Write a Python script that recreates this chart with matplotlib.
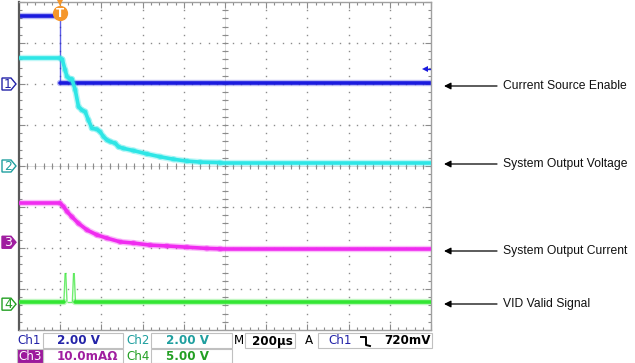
import matplotlib
matplotlib.use("Agg")
import matplotlib.pyplot as plt
import numpy as np
from matplotlib.collections import LineCollection
from matplotlib.patches import Polygon, Rectangle

W, H = 635, 363

# horizontal: 200 us/div, trigger one division after the left edge
t_div = 200
t_min, t_max = -200, 1800

# channel setup: units per division, ground marker in divisions
ch_scale = {1: 2.0, 2: 2.0, 3: 10.0, 4: 5.0}
ch_offset = {1: 2.0, 2: 0.0, 3: -1.86, 4: -3.37}
ch_color = {1: "#1a1ade", 2: "#2ee6e6", 3: "#f02cf0", 4: "#33e633"}
ch_text = {1: "#2323a8", 2: "#1f9f9f", 3: "#a01ea0", 4: "#229f22"}

# traces (time in us, value in channel units)
ch1_t = [-200, 0, 0, 1800]
ch1_v = [3.3, 3.3, 0.07, 0.07]

ch2_t = [-200, 0, 10, 24, 33, 49, 57, 73, 89, 105, 121, 137, 154, 178, 194,
         210, 227, 243, 267, 283, 307, 356, 421, 485, 550, 615, 680, 777, 1800]
ch2_v = [5.25, 5.25, 5.2, 4.68, 4.36, 4.23, 4.23, 3.71, 2.89, 2.73, 2.65, 2.24,
         1.84, 1.79, 1.67, 1.43, 1.27, 1.19, 1.11, 0.94, 0.86, 0.75, 0.59, 0.45,
         0.33, 0.24, 0.19, 0.17, 0.17]

ch3_t = [-200, 0, 16, 33, 57, 89, 130, 178, 227, 291, 356, 437, 518, 615, 712, 777, 1800]
ch3_v = [9.5, 9.5, 8.7, 7.5, 6.2, 4.6, 3.0, 1.8, 1.0, 0.1, -0.2, -0.7, -0.9,
         -1.2, -1.5, -1.6, -1.6]

ch4_t = [-200, 18, 24, 27, 33, 59, 65, 68, 74, 1800]
ch4_v = [0.3, 0.3, 3.8, 3.8, 0.3, 0.3, 3.8, 3.8, 0.3, 0.3]

trig_level = 0.72  # V on Ch1

labels = ["Current Source Enable", "System Output Voltage",
          "System Output Current", "VID Valid Signal"]
label_y_px = [86, 164, 251, 304]

status_row1 = [("Ch1", "2.00 V", 1), ("Ch2", "2.00 V", 2)]
status_row2 = [("Ch3", "10.0mA\u03a9", 3), ("Ch4", "5.00 V", 4)]
timebase = "200\u00b5s"
trig_text = "720mV"


def fx(px):
    return px / W


def fy(py):
    return 1 - py / H


px_per_div = 41.2


def px_to_t(px):
    return t_min + (px - 19) / px_per_div * t_div


def draw_trace(ax, t, v, ch, z):
    t = np.asarray(t, float)
    y = ch_offset[ch] + np.asarray(v, float) / ch_scale[ch]
    pts = np.column_stack([t, y])
    segs = np.stack([pts[:-1], pts[1:]], axis=1)
    dx = np.abs(np.diff(t)) / t_div * px_per_div
    dy = np.abs(np.diff(y)) * px_per_div
    steep = dy > 6 * dx
    # short flat tops between two fast edges are drawn faint too
    thin = steep.copy()
    for i in range(1, len(steep) - 1):
        if steep[i - 1] and steep[i + 1]:
            thin[i] = True
    flat = segs[~thin]
    ax.add_collection(LineCollection(flat, colors=ch_color[ch], linewidths=4.6,
                                     alpha=0.3, capstyle="round", zorder=z))
    ax.add_collection(LineCollection(flat, colors=ch_color[ch], linewidths=2.6,
                                     capstyle="round", zorder=z + 0.1))
    if thin.any():
        ax.add_collection(LineCollection(segs[thin], colors=ch_color[ch],
                                         linewidths=1.0, alpha=0.7, zorder=z))


fig = plt.figure(figsize=(W / 100, H / 100), dpi=100)
ax = fig.add_axes([fx(19), fy(330), fx(431) - fx(19), fy(2) - fy(330)])
ax.set_xlim(t_min, t_max)
ax.set_ylim(-4, 4)

# graticule: dotted division lines, tick-marked centre lines
grid_c = "#8c8c8c"
ys = np.arange(-4, 4.001, 0.2)
xs = np.arange(t_min, t_max + 0.1, t_div / 5)
for k in range(1, 10):
    x = t_min + k * t_div
    ax.plot(np.full_like(ys, x), ys, ls="none", marker="s", ms=1.0,
            mew=0, color=grid_c, zorder=1)
for y in range(-3, 4):
    ax.plot(xs, np.full_like(xs, y), ls="none", marker="s", ms=1.0,
            mew=0, color=grid_c, zorder=1)
xc = (t_min + t_max) / 2
ax.axvline(xc, color="#d0d0d0", lw=0.5, zorder=0.5)
ax.axhline(0, color="#d0d0d0", lw=0.5, zorder=0.5)
ax.plot(np.full_like(ys, xc), ys, ls="none", marker="_", ms=4, mew=0.8,
        color=grid_c, zorder=1)
ax.plot(xs, np.zeros_like(xs), ls="none", marker="|", ms=4, mew=0.8,
        color=grid_c, zorder=1)

ax.set_xticks(np.arange(t_min, t_max + 1, t_div))
ax.set_xticks(xs, minor=True)
ax.set_yticks(range(-4, 5))
ax.set_yticks(ys, minor=True)
ax.tick_params(which="both", direction="in", top=True, right=True,
               labelleft=False, labelbottom=False, color="#8c8c8c", width=0.8)
ax.tick_params(which="major", length=4)
ax.tick_params(which="minor", length=2.2)
for side in ["top", "right", "bottom"]:
    ax.spines[side].set_color("#a0a0a0")
    ax.spines[side].set_linewidth(1.0)
ax.spines["left"].set_color("#5a5a5a")
ax.spines["left"].set_linewidth(1.6)

draw_trace(ax, ch1_t, ch1_v, 1, 2)
draw_trace(ax, ch3_t, ch3_v, 3, 3)
draw_trace(ax, ch4_t, ch4_v, 4, 4)
draw_trace(ax, ch2_t, ch2_v, 2, 5)

# channel ground markers on the left
x0, x1, x2 = px_to_t(2), px_to_t(11), px_to_t(16)
hh = 6 / 41
for ch in [1, 2, 3, 4]:
    y = ch_offset[ch]
    filled = ch == 3
    poly = Polygon([(x0, y - hh), (x1, y - hh), (x2, y), (x1, y + hh), (x0, y + hh)],
                   closed=True, fc=ch_text[ch] if filled else "white",
                   ec=ch_text[ch], lw=1.0, clip_on=False, zorder=6)
    ax.add_patch(poly)
    ax.text(px_to_t(8), y, str(ch), ha="center", va="center",
            fontsize=9, color="white" if filled else ch_text[ch],
            clip_on=False, zorder=7)

# trigger position and level markers
ax.plot([0], [3.72], marker="o", ms=11, color="#f5962a", mew=0,
        clip_on=False, zorder=8)
ax.plot([0], [3.98], marker="v", ms=5, color="#f5962a", mew=0,
        clip_on=False, zorder=8)
ax.text(0, 3.72, "T", ha="center", va="center", color="white",
        fontsize=8.5, fontweight="bold", clip_on=False, zorder=9)
lvl = ch_offset[1] + trig_level / ch_scale[1]
ax.plot([t_max - 25, t_max], [lvl, lvl], color=ch_color[1], lw=1.0, zorder=8)
ax.plot([t_max - 30], [lvl], marker="<", ms=5, color=ch_color[1], mew=0, zorder=8)

# annotations on the right
for text, py in zip(labels, label_y_px):
    fig.text(fx(503), fy(py), text, ha="left", va="center", fontsize=8.7,
             family="Liberation Sans", color="#111111")
    ax.annotate("", xy=(fx(444), fy(py)), xytext=(fx(497), fy(py)),
                xycoords="figure fraction", textcoords="figure fraction",
                arrowprops=dict(arrowstyle="-|>", color="black", lw=0.9,
                                mutation_scale=10, shrinkA=0, shrinkB=0),
                annotation_clip=False)

# status readout
box_ec = "#c0c0c0"


def box(x_a, x_b, y_a, y_b, fc="white"):
    fig.patches.append(Rectangle((fx(x_a), fy(y_b)), fx(x_b) - fx(x_a),
                                 fy(y_a) - fy(y_b), transform=fig.transFigure,
                                 fc=fc, ec=box_ec, lw=0.8))


fs = 8.6
for row, yc, ya, yb in [(status_row1, 341, 333, 348), (status_row2, 356, 349, 363)]:
    for (name, val, ch), (lx, bx0, bx1, vx) in zip(
            row, [(17, 43, 123, 57), (126, 151, 232, 166)]):
        box(bx0, bx1, ya, yb)
        if ch == 3:
            box(lx, bx0, ya, yb, fc="#9c1a9c")
            fig.text(fx(lx + 1), fy(yc), name, ha="left", va="center",
                     fontsize=fs, color="white")
        else:
            fig.text(fx(lx), fy(yc), name, ha="left", va="center",
                     fontsize=fs, color=ch_text[ch])
        fig.text(fx(vx), fy(yc), val, ha="left", va="center", fontsize=fs,
                 fontweight="bold", color=ch_text[ch])

fig.text(fx(234), fy(341), "M", ha="left", va="center", fontsize=fs, color="black")
box(245, 295, 333, 348)
fig.text(fx(252), fy(341), timebase, ha="left", va="center", fontsize=fs,
         fontweight="bold", color="black")
fig.text(fx(305), fy(341), "A", ha="left", va="center", fontsize=fs, color="black")
box(318, 432, 333, 348)
fig.text(fx(328), fy(341), "Ch1", ha="left", va="center", fontsize=fs,
         color=ch_text[1])
# falling-edge trigger slope glyph
fig.add_artist(plt.Line2D([fx(361), fx(366), fx(366), fx(370)],
                          [fy(337), fy(337), fy(345), fy(346)],
                          transform=fig.transFigure, color="black", lw=1.4))
fig.text(fx(431), fy(341), trig_text, ha="right", va="center", fontsize=fs,
         fontweight="bold", color="black")

fig.savefig("out.png", dpi=100, facecolor="white")
